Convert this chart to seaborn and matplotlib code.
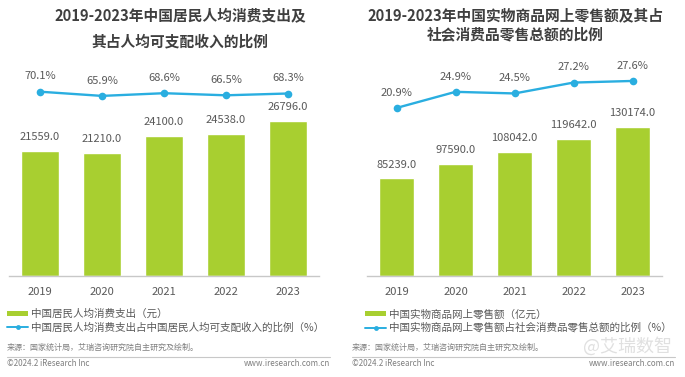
import pandas as pd
import matplotlib.pyplot as plt
import seaborn as sns
from matplotlib.patches import Patch
from matplotlib.lines import Line2D

# ============================================================
# Data
# ============================================================

years = ["2019", "2020", "2021", "2022", "2023"]

spend_per_capita = [21559.0, 21210.0, 24100.0, 24538.0, 26796.0]
spend_share = [70.1, 65.9, 68.6, 66.5, 68.3]

online_sales = [85239.0, 97590.0, 108042.0, 119642.0, 130174.0]
online_share = [20.9, 24.9, 24.5, 27.2, 27.6]

left_title = ["2019-2023年中国居民人均消费支出及", "其占人均可支配收入的比例"]
right_title = ["2019-2023年中国实物商品网上零售额及其占", "社会消费品零售总额的比例"]

left_legend = ["中国居民人均消费支出（元）",
               "中国居民人均消费支出占中国居民人均可支配收入的比例（%）"]
right_legend = ["中国实物商品网上零售额（亿元）",
                "中国实物商品网上零售额占社会消费品零售总额的比例（%）"]

source_text = "来源：国家统计局，艾瑞咨询研究院自主研究及绘制。"
copyright_text = "©2024.2 iResearch Inc"
site_text = "www.iresearch.com.cn"

# ============================================================
# Style
# ============================================================

sns.set_theme(style="white")
plt.rcParams["font.family"] = ["Noto Sans CJK SC", "DejaVu Sans"]

BAR = "#a8cf30"
LINE = "#2aaee0"
TXT = "#595959"
TITLE = "#3f3f3f"

W, H = 685, 377
fig = plt.figure(figsize=(W / 100, H / 100), dpi=100)
fig.patch.set_facecolor("white")


def px_box(x0, y0, x1, y1):
    # pixel box (top-left origin) -> figure fraction rect
    return [x0 / W, 1 - y1 / H, (x1 - x0) / W, (y1 - y0) / H]


def draw_panel(rect, bars, shares, bar_ymax, line_ylim, bar_fmt):
    ax = fig.add_axes(rect)
    df = pd.DataFrame({"year": years, "value": bars})
    sns.barplot(data=df, x="year", y="value", color=BAR, width=0.6,
                saturation=1, ax=ax)
    ax.set_xlim(-0.5, 4.5)
    ax.set_ylim(0, bar_ymax)
    ax.set_xlabel("")
    ax.set_ylabel("")
    ax.set_yticks([])
    ax.tick_params(axis="x", length=0, pad=8, labelsize=8, labelcolor=TXT)
    for side in ["top", "left", "right"]:
        ax.spines[side].set_visible(False)
    ax.spines["bottom"].set_color("#c8c8c8")
    ax.spines["bottom"].set_linewidth(1.0)
    for i, v in enumerate(bars):
        ax.annotate(bar_fmt.format(v), (i, v), xytext=(0, 10),
                    textcoords="offset points", ha="center", va="center",
                    fontsize=8, color=TXT)

    ax2 = ax.twinx()
    ldf = pd.DataFrame({"x": range(len(years)), "share": shares})
    sns.lineplot(data=ldf, x="x", y="share", color=LINE, linewidth=1.7,
                 marker="o", markersize=5.5, markeredgewidth=0, ax=ax2)
    ax2.set_ylim(*line_ylim)
    ax2.set_yticks([])
    ax2.set_xlabel("")
    ax2.set_ylabel("")
    for side in ["top", "left", "right", "bottom"]:
        ax2.spines[side].set_visible(False)
    for i, v in enumerate(shares):
        ax2.annotate(f"{v:.1f}%", (i, v), xytext=(0, 11),
                     textcoords="offset points", ha="center", va="center",
                     fontsize=8, color=TXT)
    ax.set_xlim(-0.5, 4.5)
    return ax


# ============================================================
# Left panel
# ============================================================

draw_panel(px_box(9, 60, 319, 276), spend_per_capita, spend_share,
           37254, (-114.2, 101.8), "{:.1f}")

fig.text(180 / W, 1 - 15 / H, left_title[0], ha="center", va="center",
         fontsize=10.6, fontweight="bold", color=TITLE)
fig.text(180 / W, 1 - 41 / H, left_title[1], ha="center", va="center",
         fontsize=10.6, fontweight="bold", color=TITLE)

# ============================================================
# Right panel
# ============================================================

draw_panel(px_box(367, 60, 662, 276), online_sales, online_share,
           188710, (-20.8, 32.8), "{:.1f}")

fig.text(515 / W, 1 - 15 / H, right_title[0], ha="center", va="center",
         fontsize=10.6, fontweight="bold", color=TITLE)
fig.text(515 / W, 1 - 34 / H, right_title[1], ha="center", va="center",
         fontsize=10.6, fontweight="bold", color=TITLE)

# ============================================================
# Legends and footers
# ============================================================

def legend_at(x_px, labels):
    handles = [
        Patch(facecolor=BAR, edgecolor="none"),
        Line2D([0], [0], color=LINE, linewidth=1.4, marker="o",
               markersize=3.5, markeredgewidth=0),
    ]
    fig.legend(handles, labels, loc="upper left",
               bbox_to_anchor=(x_px / W, 1 - 309 / H),
               frameon=False, fontsize=7.6, labelcolor=TXT,
               handlelength=2.0, handleheight=0.45, handletextpad=0.3,
               labelspacing=0.3, borderpad=0, borderaxespad=0)


legend_at(7, left_legend)
legend_at(365, right_legend)

for x0, x1 in [(7, 330), (352, 675)]:
    fig.text(x0 / W, 1 - 347 / H, source_text, ha="left", va="center",
             fontsize=5.8, color="#7f7f7f")
    fig.add_artist(Line2D([x0 / W, x1 / W], [1 - 357 / H, 1 - 357 / H],
                          color="#c8c8c8", linewidth=0.8))
    fig.text(x0 / W, 1 - 364 / H, copyright_text, ha="left", va="center",
             fontsize=5.8, color="#7f7f7f")
    fig.text(x1 / W, 1 - 364 / H, site_text, ha="right", va="center",
             fontsize=5.8, color="#7f7f7f")

# watermark
fig.text(672 / W, 1 - 346 / H, "@艾瑞数智", ha="right", va="center",
         fontsize=13, color="#e0e0e0")

plt.savefig("out.png", dpi=100)
plt.close()
